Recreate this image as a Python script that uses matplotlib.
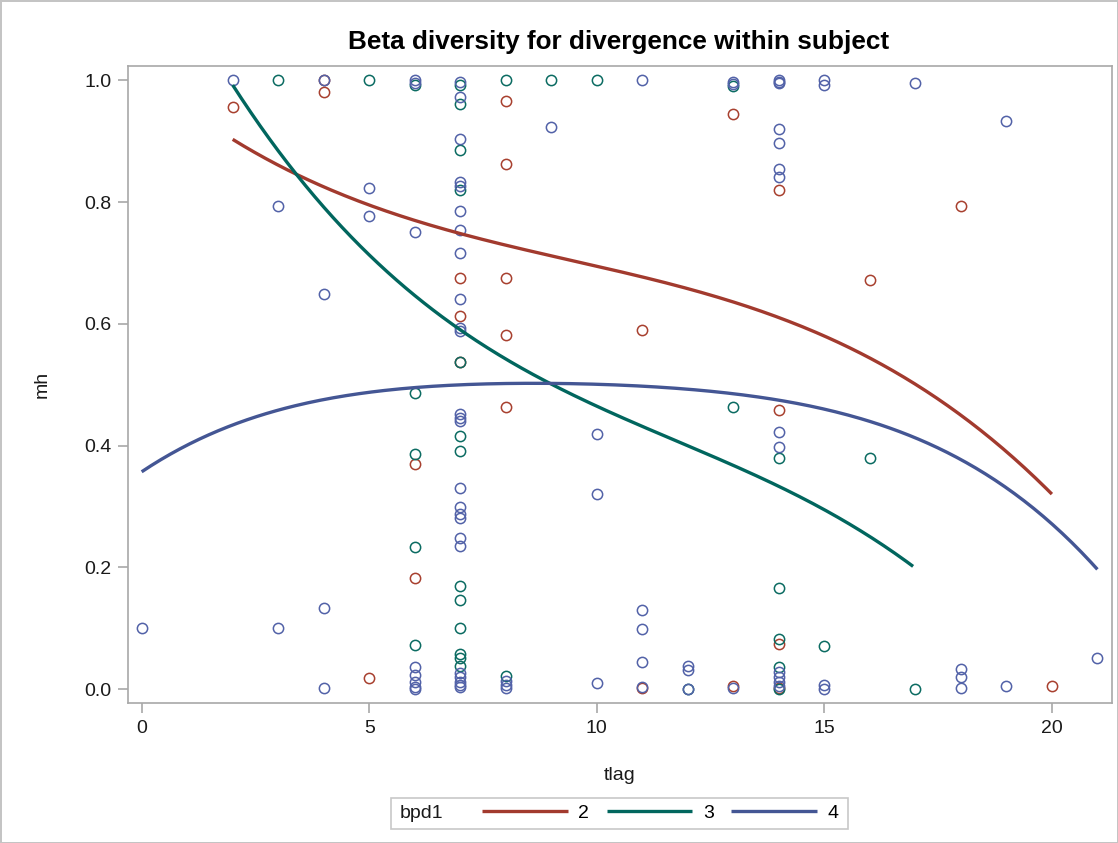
import numpy as np
import matplotlib
matplotlib.use("Agg")
import matplotlib.pyplot as plt
from matplotlib.patches import Rectangle
from matplotlib.ticker import FormatStrFormatter

plt.rcParams['font.family'] = ['Liberation Sans', 'DejaVu Sans']

# ---- observations: tlag (x) and mh (y) by bpd1 group ----
tlag_2 = [2, 4, 4, 5, 6, 6, 7, 7, 7, 8, 8, 8, 8, 8, 11, 11, 13, 13,
          14, 14, 14, 14, 16, 18, 20]
mh_2 = [0.956, 1.0, 0.980, 0.018, 0.370, 0.182, 0.676, 0.613, 0.537,
        0.966, 0.862, 0.676, 0.582, 0.463, 0.590, 0.002, 0.944, 0.005,
        0.820, 0.459, 0.075, 0.002, 0.672, 0.793, 0.005]

tlag_3 = [3, 5, 6, 6, 6, 6, 6,
          7, 7, 7, 7, 7, 7, 7, 7, 7, 7, 7, 7, 7,
          8, 8, 9, 10, 12, 13, 13,
          14, 14, 14, 14, 14, 15, 16, 17]
mh_3 = [1.0, 1.0, 0.993, 0.487, 0.386, 0.233, 0.072,
        0.993, 0.961, 0.886, 0.820, 0.537, 0.416, 0.391, 0.169, 0.147,
        0.100, 0.058, 0.052, 0.038,
        1.0, 0.021, 1.0, 1.0, 0.0, 0.991, 0.464,
        0.380, 0.167, 0.083, 0.037, 0.0, 0.071, 0.380, 0.0]

tlag_4 = [0, 2, 3, 3, 4, 4, 4, 4, 5, 5,
          6, 6, 6, 6, 6, 6, 6, 6,
          7, 7, 7, 7, 7, 7, 7, 7, 7, 7, 7, 7, 7, 7, 7, 7, 7, 7, 7, 7,
          7, 7, 7, 7, 7,
          8, 8, 8,
          9, 10, 10, 10,
          11, 11, 11, 11, 11,
          12, 12, 12,
          13, 13, 13,
          14, 14, 14, 14, 14, 14, 14, 14, 14, 14, 14, 14, 14,
          15, 15, 15, 15,
          17, 18, 18, 18, 19, 19, 21]
mh_4 = [0.100, 1.0, 0.793, 0.100, 1.0, 0.649, 0.134, 0.002, 0.823, 0.777,
        1.0, 0.996, 0.751, 0.036, 0.023, 0.012, 0.004, 0.0,
        0.998, 0.972, 0.904, 0.833, 0.827, 0.785, 0.754, 0.717, 0.641,
        0.594, 0.589, 0.452, 0.446, 0.441, 0.330, 0.299, 0.288, 0.282,
        0.249, 0.236, 0.027, 0.020, 0.012, 0.007, 0.003,
        0.014, 0.007, 0.002,
        0.923, 0.420, 0.320, 0.011,
        1.0, 0.131, 0.099, 0.045, 0.003,
        0.039, 0.032, 0.001,
        0.998, 0.994, 0.002,
        1.0, 0.998, 0.996, 0.920, 0.897, 0.855, 0.841, 0.422, 0.398,
        0.028, 0.020, 0.012, 0.005,
        1.0, 0.992, 0.007, 0.0,
        0.995, 0.034, 0.020, 0.002, 0.933, 0.005, 0.051]

# ---- fitted trend for each group, sampled along tlag ----
fit_x_2 = [2.0, 3.44, 5.45, 8.53, 10.07, 12.26, 15.34, 16.1, 17.83, 18.86, 20.0]
fit_y_2 = [0.901, 0.846, 0.786, 0.718, 0.692, 0.652, 0.570, 0.539, 0.463, 0.397, 0.320]

fit_x_3 = [2.0, 3.44, 5.45, 6.99, 8.53, 9.11, 10.07, 11.82, 14.02, 16.95]
fit_y_3 = [0.991, 0.846, 0.680, 0.584, 0.521, 0.501, 0.466, 0.405, 0.329, 0.203]

fit_x_4 = [0.0, 1.2, 2.74, 4.2, 5.67, 7.0, 8.0, 9.04, 10.07, 11.82, 13.87,
           15.93, 18.13, 19.6, 21.0]
fit_y_4 = [0.354, 0.410, 0.457, 0.480, 0.493, 0.498, 0.500, 0.4995, 0.498,
           0.494, 0.482, 0.449, 0.370, 0.282, 0.206]

groups = ['2', '3', '4']
colors = ['#A23A2E', '#01665E', '#445694']
marker_colors = ['#A8402F', '#0B6B62', '#5262A8']
fit_degree = [3, 3, 4]
xs = [tlag_2, tlag_3, tlag_4]
ys = [mh_2, mh_3, mh_4]
fits = [(fit_x_2, fit_y_2), (fit_x_3, fit_y_3), (fit_x_4, fit_y_4)]

fig = plt.figure(figsize=(11.18, 8.43), dpi=100)
fig.patch.set_facecolor('white')
fig.patch.set_edgecolor('#C4C4C4')
fig.patch.set_linewidth(2)

ax = fig.add_axes([0.1145, 0.1661, 0.8801, 0.7556])

for x, y, c in zip(xs, ys, marker_colors):
    ax.plot(x, y, linestyle='none', marker='o', markersize=7.4,
            markerfacecolor='none', markeredgecolor=c, markeredgewidth=1.1,
            zorder=2)

handles = []
for (fx, fy), c, g, deg in zip(fits, colors, groups, fit_degree):
    coef = np.polyfit(fx, fy, deg)
    xx = np.linspace(min(fx), max(fx), 300)
    line, = ax.plot(xx, np.polyval(coef, xx), color=c, linewidth=2.4,
                    label=g, zorder=3, solid_capstyle='butt')
    handles.append(line)

ax.set_xlim(-0.30, 21.32)
ax.set_ylim(-0.0225, 1.0235)
ax.set_xticks([0, 5, 10, 15, 20])
ax.set_yticks([0.0, 0.2, 0.4, 0.6, 0.8, 1.0])
ax.yaxis.set_major_formatter(FormatStrFormatter('%.1f'))

for s in ax.spines.values():
    s.set_color('#A8A8A8')
    s.set_linewidth(1.2)
ax.tick_params(direction='out', length=7, width=1.2, color='#A8A8A8',
               labelcolor='#1a1a1a', labelsize=14, pad=5)

ax.set_xlabel('tlag', fontsize=14, color='#1a1a1a', labelpad=22)
ax.set_ylabel('mh', fontsize=14, color='#1a1a1a', labelpad=24)

fig.text(619 / 1118, 1 - 42 / 843, 'Beta diversity for divergence within subject',
         ha='center', va='center', fontsize=18.8, fontweight='bold', color='black')

# legend strip at the bottom
fig.add_artist(Rectangle((391 / 1118, 1 - 829 / 843), (848 - 391) / 1118, 31 / 843,
                         transform=fig.transFigure, fill=False,
                         edgecolor='#C8C8C8', linewidth=1.2))
fig.text(400 / 1118, 1 - 813 / 843, 'bpd1', ha='left', va='center',
         fontsize=14, color='#1a1a1a')
fig.legend(handles, groups, ncol=3, loc='center left',
           bbox_to_anchor=(482 / 1118, 1 - 813 / 843), frameon=False,
           fontsize=14, handlelength=4.4, handletextpad=0.55,
           columnspacing=0.9, borderpad=0, borderaxespad=0)

fig.savefig('out.png', dpi=100)
